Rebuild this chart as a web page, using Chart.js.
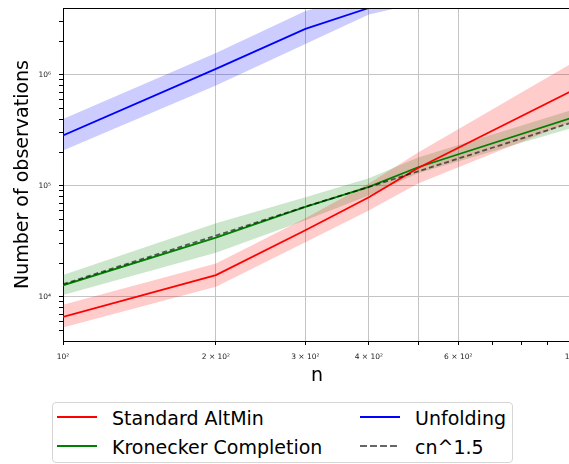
<!DOCTYPE html>
<html lang="en">
<head>
<meta charset="utf-8" />
<title>Number of observations vs n</title>
<script src="https://cdn.jsdelivr.net/npm/chart.js@4"></script>
<style>
  html, body { margin: 0; padding: 0; background: #fff; overflow: hidden; }
  body { width: 569px; height: 464px; position: relative; font-family: "DejaVu Sans", sans-serif; }
  #plot { position: absolute; left: 0; top: 0; }
  #legendBox { position: absolute; left: 52px; top: 402px; width: 459px; height: 59px;
               border: 1px solid #d6d6d6; border-radius: 4px; }
  .lbl { position: absolute; font-size: 19px; line-height: 22px; color: #000; white-space: nowrap; }
  .swatch { position: absolute; width: 40px; height: 2px; }
</style>
</head>
<body>
<canvas id="plot" width="590" height="395"></canvas>
<div id="legendBox"></div>
<script>
// n values where the experiments were run
const nValues = [100, 200, 300, 400, 500, 1000];

// Standard AltMin (mean and shaded band)
const altMinMean = [6.6e3, 1.57e4, 3.98e4, 7.9e4, 1.45e5, 7.1e5];
const altMinLow  = [5.3e3, 1.23e4, 3.1e4, 6.0e4, 1.05e5, 3.75e5];
const altMinHigh = [8.5e3, 2.0e4, 5.1e4, 1.05e5, 2.0e5, 1.26e6];

// Kronecker Completion
const kronMean = [1.27e4, 3.42e4, 6.45e4, 9.8e4, 1.47e5, 4.07e5];
const kronLow  = [1.04e4, 2.5e4, 4.9e4, 8.2e4, 1.3e5, 3.3e5];
const kronHigh = [1.57e4, 4.6e4, 7.9e4, 1.17e5, 1.8e5, 4.8e5];

// Unfolding (goes off the top after n=400)
const unfoldMean = [2.84e5, 1.13e6, 2.59e6, 4.0e6, 5.6e6, 1.6e7];
const unfoldLow  = [2.08e5, 8.0e5, 1.9e6, 3.5e6, 4.4e6, 1.2e7];
const unfoldHigh = [4.0e5, 1.57e6, 3.75e6, 5.4e6, 7.4e6, 2.2e7];

// reference curve cn^1.5
const refCurve = [1.3e4, 3.56e4, 6.5e4, 9.76e4, 1.35e5, 3.7e5];

// ticks
const xTickValues = [100, 200, 300, 400, 500, 600, 700, 800, 900, 1000];
const xTickLabels = ["10²", "2 × 10²", "3 × 10²", "4 × 10²", "", "6 × 10²", "", "", "", "10³"];
const xGridValues = [200, 300, 400, 500, 600, 1000];
const yTickValues = [5e3, 6e3, 7e3, 8e3, 9e3, 1e4, 2e4, 3e4, 4e4, 5e4, 6e4, 7e4, 8e4, 9e4,
                     1e5, 2e5, 3e5, 4e5, 5e5, 6e5, 7e5, 8e5, 9e5, 1e6, 2e6, 3e6];
const yMajorValues = [1e4, 1e5, 1e6];
const yMajorLabels = ["10⁴", "10⁵", "10⁶"];

const seriesNames = ["Standard AltMin", "Kronecker Completion", "Unfolding", "cn^1.5"];
const seriesColors = ["#ff0000", "#008000", "#0000ff", "rgba(0,0,0,0.6)"];
const bandColors = ["rgba(255,0,0,0.2)", "rgba(0,128,0,0.2)", "rgba(0,0,255,0.2)"];

function pts(arr) {
  return nValues.map((n, i) => ({ x: n, y: arr[i] }));
}

function bandPair(high, low, color) {
  return [
    { data: pts(high), borderColor: "rgba(0,0,0,0)", borderWidth: 0, pointRadius: 0, fill: false, order: 3 },
    { data: pts(low), borderColor: "rgba(0,0,0,0)", borderWidth: 0, pointRadius: 0, fill: "-1",
      backgroundColor: color, order: 3 }
  ];
}

function meanLine(arr, color) {
  return { data: pts(arr), borderColor: color, borderWidth: 1.8, pointRadius: 0, fill: false, order: 1 };
}

const datasets = [
  ...bandPair(altMinHigh, altMinLow, bandColors[0]),
  ...bandPair(kronHigh, kronLow, bandColors[1]),
  ...bandPair(unfoldHigh, unfoldLow, bandColors[2]),
  meanLine(altMinMean, seriesColors[0]),
  meanLine(kronMean, seriesColors[1]),
  meanLine(unfoldMean, seriesColors[2]),
  { data: pts(refCurve), borderColor: seriesColors[3], borderWidth: 1.8, borderDash: [5, 3],
    pointRadius: 0, fill: false, order: 0 }
];
datasets.forEach(d => { d.clip = 0; d.tension = 0; });

// top and right spines
const frame = {
  id: "frame",
  afterDraw(chart) {
    const { ctx, chartArea: a } = chart;
    ctx.save();
    ctx.strokeStyle = "#000";
    ctx.lineWidth = 1;
    ctx.beginPath();
    ctx.moveTo(a.left, Math.round(a.top) + 0.5);
    ctx.lineTo(a.right, Math.round(a.top) + 0.5);
    ctx.lineTo(a.right, a.bottom);
    ctx.stroke();
    ctx.restore();
  }
};

// keep the tick labels from pushing the plot area around
function noPad(s) {
  s.paddingTop = 0; s.paddingBottom = 0; s.paddingLeft = 0; s.paddingRight = 0;
}

Chart.defaults.font.family = "DejaVu Sans";
Chart.defaults.color = "#222";

new Chart(document.getElementById("plot"), {
  type: "line",
  data: { datasets: datasets },
  plugins: [frame],
  options: {
    responsive: false,
    animation: false,
    events: [],
    layout: { padding: { top: 8, right: 19, left: 0, bottom: 0 } },
    plugins: { legend: { display: false }, tooltip: { enabled: false } },
    scales: {
      x: {
        type: "logarithmic",
        min: 100,
        max: 1000,
        afterBuildTicks: s => { s.ticks = xTickValues.map(v => ({ value: v })); },
        afterFit: s => { s.height = 54; noPad(s); },
        ticks: {
          autoSkip: false,
          maxRotation: 0,
          padding: 8,
          font: { size: 7.5 },
          callback: v => xTickLabels[xTickValues.indexOf(v)] || ""
        },
        grid: {
          tickLength: 4,
          tickColor: "#000",
          color: c => (c.tick && xGridValues.includes(c.tick.value)) ? "#c4c4c4" : "rgba(0,0,0,0)"
        },
        border: { color: "#000", width: 1 },
        title: { display: true, text: "n", color: "#000", font: { size: 19 }, padding: { top: 0, bottom: 7.6 } }
      },
      y: {
        type: "logarithmic",
        min: 4e3,
        max: 4e6,
        afterBuildTicks: s => { s.ticks = yTickValues.map(v => ({ value: v })); },
        afterFit: s => { s.width = 63; noPad(s); },
        ticks: {
          autoSkip: false,
          padding: 8,
          font: { size: 7.5 },
          callback: v => {
            const k = yMajorValues.indexOf(v);
            return k >= 0 ? yMajorLabels[k] : "";
          }
        },
        grid: {
          tickLength: 4,
          tickColor: "#000",
          color: c => (c.tick && yMajorValues.includes(c.tick.value)) ? "#c4c4c4" : "rgba(0,0,0,0)"
        },
        border: { color: "#000", width: 1 },
        title: { display: true, text: "Number of observations", color: "#000", font: { size: 19 },
                 padding: { top: 11.6, bottom: 0 } }
      }
    }
  }
});

// legend, two columns like the original
const legendPos = [
  { left: 57, top: 416 }, { left: 57, top: 445 }, { left: 360, top: 416 }, { left: 360, top: 445 }
];
seriesNames.forEach((name, i) => {
  const p = legendPos[i];
  const sw = document.createElement("div");
  sw.className = "swatch";
  sw.style.left = p.left + "px";
  sw.style.top = p.top + "px";
  sw.style.background = i === 3
    ? "repeating-linear-gradient(to right, " + seriesColors[3] + " 0 7px, transparent 7px 10px)"
    : seriesColors[i];
  document.body.appendChild(sw);
  const t = document.createElement("div");
  t.className = "lbl";
  t.textContent = name;
  t.style.left = (p.left + 55) + "px";
  t.style.top = (p.top - 9) + "px";
  document.body.appendChild(t);
});
</script>
</body>
</html>
